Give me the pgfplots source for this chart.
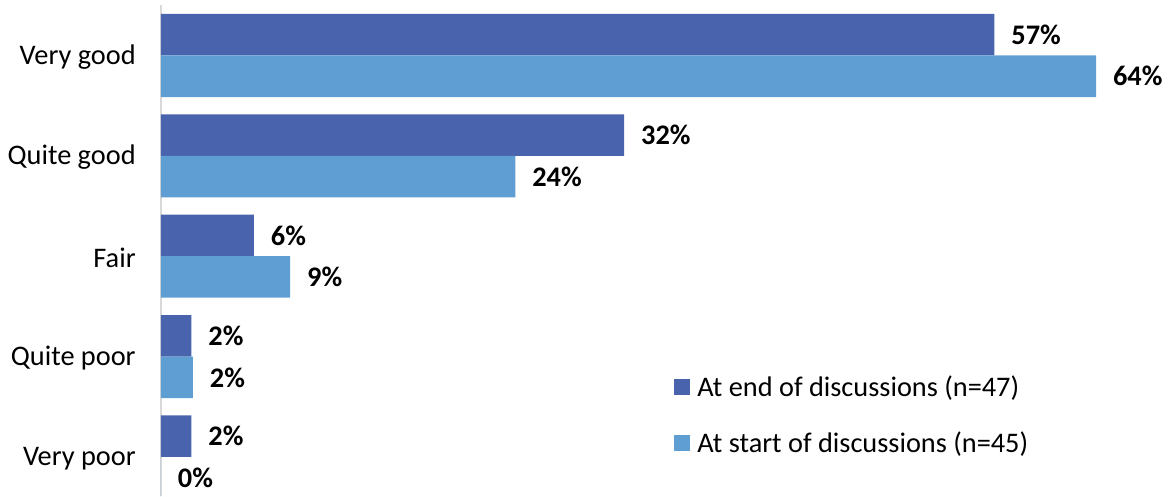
\documentclass[border=0pt]{standalone}
\usepackage{pgfplots}
\pgfplotsset{compat=1.18}
\usepackage{fontspec}
\setmainfont{Carlito}
\definecolor{darkb}{HTML}{4964AD}
\definecolor{lightb}{HTML}{5F9ED2}
\definecolor{axgray}{HTML}{D9D9D9}
\newcommand{\fs}{\fontsize{17}{20.4}\selectfont}
\begin{document}
\begin{tikzpicture}
\begin{axis}[
  scale only axis=true,
  width=606.6pt, height=294.6pt,
  xmin=0, xmax=69.63,
  ymin=-0.503, ymax=4.389,
  y dir=reverse,
  xbar, bar width=0.4136,
  axis x line=none,
  axis y line=left,
  axis line style={draw=axgray, line width=1.2pt, -},
  ytick={0,1,2,3,4},
  yticklabels={Very good,Quite good,Fair,Quite poor,Very poor},
  major tick length=0pt,
  yticklabel style={font=\fs, inner sep=0pt, xshift=-15pt, yshift=-1pt},
  clip=false,
  nodes near coords,
  point meta=explicit symbolic,
  every node near coord/.append style={font=\fs\bfseries, inner sep=0pt, xshift=10pt, anchor=west},
  legend style={at={(0.507,0.246)}, anchor=north west, draw=none, fill=none,
    font=\fs, row sep=19.5pt, inner sep=0pt, nodes={inner sep=0pt}},
  legend cell align=left,
  legend image code/.code={\fill[#1] (0pt,-4.8pt) rectangle (9.6pt,4.8pt); \path (14pt,0pt);},
]
\addplot[fill=darkb, draw=none, bar shift=-0.2068] coordinates {
  (57.4,0) [57\%]
  (31.9,1) [32\%]
  (6.4,2) [6\%]
  (2.1,3) [2\%]
  (2.1,4) [2\%]
};
\addplot[fill=lightb, draw=none, bar shift=0.2068] coordinates {
  (64.4,0) [64\%]
  (24.4,1) [24\%]
  (8.9,2) [9\%]
  (2.2,3) [2\%]
  (0,4) [0\%]
};
\legend{At end of discussions (n=47),At start of discussions (n=45)}
\end{axis}
\pgfresetboundingbox
\path (current axis.south west) ++(-96.6pt,0pt) rectangle ++(703.2pt,297.6pt);
\end{tikzpicture}
\end{document}
